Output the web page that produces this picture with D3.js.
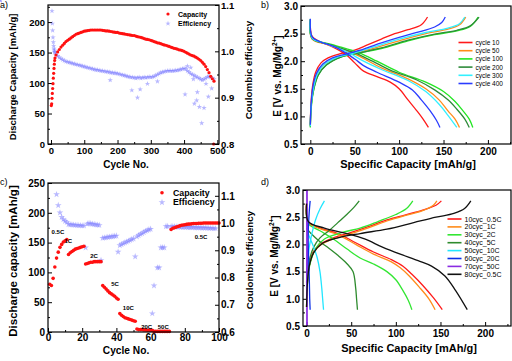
<!DOCTYPE html>
<html><head><meta charset="utf-8">
<script src="https://cdn.jsdelivr.net/npm/d3@7"></script>
<style>
body{margin:0;background:#fff}
text{font-family:"Liberation Sans",Arial,sans-serif;}
</style></head><body>
<script>
// ---------- Panel a data ----------
const aCapCycles = [1,2,3,4,5,6,7,8,9,10,11,12,15,20,25,30,35,40,45,50,55,60,65,70,75,80,85,90,95,100,105,110,115,120,125,130,135,140,145,150,155,160,165,170,175,180,185,190,195,200,205,210,215,220,225,230,235,240,245,250,255,260,265,270,275,280,285,290,295,300,305,310,315,320,325,330,335,340,345,350,355,360,365,370,375,380,385,390,395,400,405,410,415,420,425,430,435,440,445,450,455,460,465,470,475,480,485,490,489];
const aCapValues = [63,66,75,83,91,99,108,116,124,131,137,141,146,151,155,159,162,165,168,170,172,174,176,178,180,181,182,183,184,185,185.5,186,186.5,187,187,187,187,187,187,187,186.5,186,185.5,185.5,185,184.5,184,183.5,183,183,182,181.5,181,180.5,180,179.5,179,178.5,178,178,177,176,175.5,175,174,173,172,171.5,171,170,169,168,167,166,165.5,164.5,163.5,162.5,162,161,160,159,158,157,156.5,155.5,154.5,154,153,152,150.5,149,147.5,146,145,144,142.5,141,139,137,134,131,127,122,117,111,107,103,0];
const aEffCycles = [3,4,5,6,7,8,9,10,11,12,15,20,25,30,35,40,45,50,55,60,65,70,75,80,85,90,95,100,105,110,115,120,125,130,135,140,145,150,155,160,165,170,175,180,185,190,195,200,205,210,215,220,225,230,235,240,245,250,255,260,265,270,275,280,285,290,295,300,305,310,315,320,325,330,335,340,345,350,355,360,365,370,375,380,385,390,395,400,405,410,415,420,425,430,435,440,445,450,455,460,465,470,475,480,485,490,178,243,260,268,290,320,403,410,420,428,431,438,440,446,453,460,466,473,483];
const aEffValues = [1.087,1.06,1.045,1.03,1.02,1.012,1.006,1.002,0.999,0.997,0.993,0.990,0.987,0.984,0.982,0.980,0.978,0.977,0.976,0.975,0.974,0.973,0.972,0.971,0.970,0.969,0.968,0.967,0.966,0.965,0.964,0.963,0.962,0.961,0.960,0.960,0.959,0.958,0.958,0.957,0.956,0.956,0.955,0.954,0.954,0.953,0.953,0.952,0.951,0.950,0.949,0.948,0.947,0.946,0.945,0.944,0.944,0.943,0.942,0.943,0.944,0.942,0.943,0.944,0.943,0.944,0.945,0.944,0.945,0.946,0.948,0.950,0.952,0.954,0.955,0.956,0.957,0.958,0.958,0.958,0.958,0.958,0.959,0.959,0.960,0.961,0.962,0.963,0.962,0.958,0.955,0.952,0.950,0.948,0.946,0.944,0.942,0.940,0.938,0.940,0.942,0.945,0.946,0.944,0.942,0.940,0.938,0.916,0.900,0.918,0.930,0.935,0.907,0.968,0.965,0.940,0.887,0.894,0.912,0.880,0.845,0.878,0.930,0.902,0.920];

// ---------- Panel b data (cycle curves: [capacity mAh/g, E V]) ----------
const bLabels = ["cycle 10","cycle 50","cycle 100","cycle 200","cycle 300","cycle 400"];
const bColors = ["#ff1a1a","#ff8c1a","#22e622","#2e8b3a","#33f0ff","#2a3cff"];
const bDischarge = [
 [[0,2.75],[2,2.45],[10,2.36],[25,2.26],[40,2.12],[50,1.97],[60,1.82],[75,1.72],[90,1.62],[100,1.50],[110,1.30],[120,1.10],[127,0.95],[133,0.8]],
 [[0,2.75],[2,2.40],[20,2.30],[45,2.17],[60,2.05],[80,1.88],[110,1.68],[130,1.50],[145,1.30],[155,1.10],[163,0.95],[168,0.8]],
 [[0,2.76],[2,2.42],[25,2.30],[55,2.15],[75,2.00],[100,1.80],[130,1.62],[150,1.45],[163,1.27],[172,1.10],[179,0.95],[183,0.8]],
 [[0,2.76],[2,2.41],[20,2.31],[50,2.15],[70,2.00],[90,1.84],[120,1.66],[140,1.48],[155,1.30],[165,1.13],[174,0.95],[179,0.8]],
 [[0,2.76],[2,2.42],[15,2.33],[40,2.18],[60,2.00],[80,1.85],[110,1.65],[130,1.45],[145,1.22],[155,1.02],[165,0.8]],
 [[0,2.77],[2,2.44],[10,2.36],[30,2.24],[50,2.04],[60,1.92],[75,1.80],[100,1.62],[115,1.48],[125,1.30],[135,1.10],[142,0.93],[146,0.8]]
];
const bCharge = [
 [[0,0.85],[1,1.3],[3,1.6],[6,1.8],[12,1.97],[20,2.06],[35,2.14],[50,2.2],[65,2.3],[80,2.4],[95,2.5],[110,2.57],[125,2.66],[132,2.8]],
 [[0,0.82],[1,1.2],[4,1.55],[8,1.77],[15,1.93],[30,2.06],[50,2.14],[70,2.23],[100,2.37],[130,2.5],[155,2.58],[168,2.66],[175,2.8]],
 [[0,0.8],[1,1.15],[4,1.5],[9,1.75],[18,1.93],[35,2.08],[55,2.15],[80,2.23],[110,2.37],[140,2.48],[165,2.55],[180,2.63],[189,2.8]],
 [[0,0.82],[1,1.2],[4,1.5],[9,1.75],[18,1.93],[35,2.08],[55,2.15],[80,2.24],[110,2.38],[140,2.49],[165,2.56],[180,2.64],[190,2.8]],
 [[0,0.82],[1,1.2],[4,1.55],[8,1.77],[15,1.93],[30,2.07],[50,2.15],[70,2.25],[100,2.4],[130,2.52],[155,2.6],[168,2.68],[174,2.8]],
 [[0,0.85],[1,1.25],[3,1.55],[7,1.78],[14,1.95],[25,2.06],[40,2.13],[60,2.22],[80,2.33],[100,2.43],[120,2.52],[140,2.62],[148,2.7],[152,2.8]]
];

// ---------- Panel c data ----------
const cCapCycles = d3.range(1,101);
const cCapValues = [80,78,90,109,124,134,142,147,151,153,155,
 130,133,135,137,139,140,141,142,143,144,
 114,115,116,117,117,118,118,118,118,118,
 78,75,72,69,66,64,62,60,57,55,
 31,28,26,24,23,22,21,20,19,18,
 5,4,4,4,3.5,3.5,3,3,3,3,
 1,1,1,1,1,1,1,1,1,1,
 172,174,175,176,177,178,179,179.5,180,180.5,181,181,181.5,182,182,182,182.5,182.5,182.5,183,183,183,183,183,183,183,183,183,183];
const cEffCycles = [5,6,7,8,9,10,11,12,13,14,15,16,17,18,19,20,21,22,23,24,25,26,27,28,29,30,31,32,33,34,35,36,37,38,39,40,41,42,43,44,45,46,47,48,49,50,51,52,53,54,55,56,57,58,59,60,61,62,64,65,66,67,68,69,70,72,73,74,75,76,77,78,79,80,81,82,83,84,85,86,87,88,89,90,91,92,93,94,95,96,97,98,99,100];
const cEffValues = [1.105,1.065,1.038,1.022,1.013,1.007,1.003,
 0.995,0.994,0.994,0.993,0.992,0.992,0.991,0.991,0.990,0.990,
 0.910,0.997,0.999,0.998,0.996,0.995,0.994,0.993,0.992,
 0.863,0.945,0.946,0.947,0.948,0.949,0.950,0.951,0.952,0.953,
 0.894,0.918,0.922,0.925,0.928,0.931,0.934,0.937,0.940,0.943,
 0.877,0.950,0.955,0.959,0.962,0.966,0.970,0.973,0.976,0.978,
 0.668,0.770,0.836,0.836,0.910,0.910,0.910,
 0.988,0.988,0.987,0.987,0.987,0.986,0.986,0.986,0.985,0.985,0.985,0.985,0.984,0.984,0.984,0.984,0.983,0.983,0.983,0.983,0.982,0.982,0.982,0.982,0.981,0.981,0.981,0.980,0.980];
const cRateLabels = ["0.5C","1C","2C","5C","10C","20C","50C","0.5C"];
const cRateX = [5.8,11.9,26.9,39.2,47,57.7,67.4,89.5];
const cRateY = [168,153,127,80,41,8,8,160];

// ---------- Panel d data ----------
const dLabels = ["10cyc_0.5C","20cyc_1C","30cyc_2C","40cyc_5C","50cyc_10C","60cyc_20C","70cyc_50C","80cyc_0.5C"];
const dColors = ["#ff1a1a","#ff8c1a","#33e633","#2e8b2e","#22e6ff","#0a2ee6","#8a2be2","#111111"];
const dDischarge = [
 [[0,2.75],[2,2.42],[15,2.3],[35,2.2],[55,2.03],[75,1.86],[95,1.72],[108,1.6],[118,1.45],[130,1.25],[142,1.02],[152,0.8]],
 [[0,2.74],[2,2.4],[15,2.29],[35,2.18],[55,2.0],[75,1.82],[95,1.68],[105,1.57],[115,1.42],[126,1.22],[137,1.0],[144,0.8]],
 [[0,2.65],[2,2.38],[15,2.25],[30,2.1],[45,1.92],[60,1.75],[75,1.64],[90,1.5],[100,1.35],[108,1.15],[114,0.97],[118,0.8]],
 [[0,2.3],[5,2.2],[15,2.05],[25,1.93],[35,1.8],[45,1.65],[52,1.5],[55,1.2],[56,1.0],[57,0.8]],
 [[0,2.3],[3,2.15],[8,1.95],[12,1.75],[15,1.5],[17,1.2],[18,1.0],[19,0.8]],
 [[0,2.7],[1,2.3],[2,1.9],[3,1.4],[3.5,1.0],[4,0.8]],
 [[0.4,3.0],[0.5,0.5]],
 [[0,2.75],[2,2.42],[20,2.3],[45,2.2],[65,2.1],[85,1.95],[105,1.82],[125,1.7],[140,1.6],[155,1.42],[167,1.15],[180,0.8]]
];
const dCharge = [
 [[0,0.85],[1,1.3],[3,1.6],[7,1.85],[15,2.0],[30,2.12],[50,2.22],[70,2.33],[90,2.45],[110,2.54],[130,2.63],[145,2.72],[151,2.8]],
 [[0,0.85],[1,1.3],[3,1.6],[8,1.85],[15,1.98],[30,2.1],[50,2.2],[70,2.31],[90,2.43],[110,2.53],[130,2.62],[142,2.72],[146,2.8]],
 [[0,0.85],[1,1.3],[4,1.65],[10,1.92],[20,2.1],[40,2.22],[60,2.3],[80,2.42],[100,2.55],[112,2.66],[119,2.8]],
 [[0,1.0],[1,1.4],[3,1.7],[8,1.95],[15,2.12],[25,2.25],[35,2.4],[45,2.55],[53,2.68],[59,2.8]],
 [[0,1.2],[1,1.6],[3,1.95],[6,2.2],[10,2.45],[15,2.65],[20,2.8]],
 [[0,1.3],[1,1.8],[2,2.3],[3,2.6],[4,2.8]],
 [[0.4,0.5],[0.5,3.0]],
 [[0,0.85],[1,1.3],[3,1.6],[8,1.85],[18,2.02],[35,2.12],[60,2.2],[90,2.28],[120,2.4],[145,2.5],[165,2.57],[177,2.66],[184,2.8]]
];

// ---------- drawing ----------
const FONT = '"Liberation Sans", Arial, sans-serif';
const svg = d3.select("body").append("svg").attr("width",512).attr("height",361);

function styleAxis(a, fs){
  a.select(".domain").remove();
  a.selectAll("line").attr("stroke","#000").attr("stroke-width",1);
  a.selectAll("text").attr("font-size",fs).attr("font-weight","bold").attr("font-family",FONT).attr("fill","#000");
}
function addAxis(axis, tr, fs){
  const a = svg.append("g").attr("transform",tr).call(axis);
  styleAxis(a, fs||9.5);
  return a;
}
function frame(L,R,T,B){
  svg.append("rect").attr("x",L).attr("y",T).attr("width",R-L).attr("height",B-T)
    .attr("fill","none").attr("stroke","#000").attr("stroke-width",1.2);
}
function text(x,y,s,o){
  o=o||{};
  const t = svg.append("text").attr("x",x).attr("y",y).text(s)
    .attr("font-size",o.fs||10).attr("font-weight",o.fw||"bold").attr("font-family",FONT)
    .attr("text-anchor",o.anchor||"middle").attr("dominant-baseline","central").attr("fill",o.fill||"#000");
  if(o.rot) t.attr("transform",`rotate(${o.rot},${x},${y})`);
  return t;
}
const star = d3.symbol().type(d3.symbolStar).size(9);
const starC = d3.symbol().type(d3.symbolStar).size(14);

// ===== Panel a =====
{
  const L=48,R=219,T=5,B=144;
  const x=d3.scaleLinear().domain([-9,505]).range([L,R]);
  const y=d3.scaleLinear().domain([0,228]).range([B,T]);
  const y2=d3.scaleLinear().domain([0.8,1.1]).range([B,T]);
  addAxis(d3.axisBottom(x).tickValues([0,100,200,300,400,500]).tickSize(-4).tickPadding(3),`translate(0,${B})`);
  addAxis(d3.axisBottom(x).tickValues([50,150,250,350,450]).tickSize(-2).tickFormat(""),`translate(0,${B})`);
  addAxis(d3.axisLeft(y).tickValues([0,50,100,150,200]).tickSize(-4).tickPadding(3),`translate(${L},0)`);
  addAxis(d3.axisLeft(y).tickValues([25,75,125,175,225]).tickSize(-2).tickFormat(""),`translate(${L},0)`);
  addAxis(d3.axisRight(y2).tickValues([0.8,0.9,1.0,1.1]).tickSize(-4).tickPadding(2).tickFormat(d3.format(".1f")),`translate(${R},0)`);
  addAxis(d3.axisRight(y2).tickValues([0.85,0.95,1.05]).tickSize(-2).tickFormat(""),`translate(${R},0)`);
  const eff = aEffCycles.map((c,i)=>[c,aEffValues[i]]);
  svg.append("g").selectAll("path").data(eff).join("path").attr("d",star)
    .attr("transform",d=>`translate(${x(d[0])},${y2(d[1])})`).attr("fill","#6f6fff").attr("opacity",0.5);
  const cap = aCapCycles.map((c,i)=>[c,aCapValues[i]]);
  svg.append("g").selectAll("circle").data(cap).join("circle")
    .attr("cx",d=>x(d[0])).attr("cy",d=>y(d[1])).attr("r",1.6).attr("fill","#ff1010");
  frame(L,R,T,B);
  svg.append("circle").attr("cx",168).attr("cy",14).attr("r",1.6).attr("fill","#ff1010");
  svg.append("path").attr("d",star).attr("transform","translate(168,23.5)").attr("fill","#6f6fff").attr("opacity",0.5);
  text(178,14,"Capacity",{fs:7,anchor:"start"});
  text(178,23.5,"Efficiency",{fs:7,anchor:"start"});
  text(126,164,"Cycle No.",{fs:10});
  text(12,77,"Discharge Capacity [mAh/g]",{fs:9.5,rot:-90});
  text(248,70,"Coulombic efficiency",{fs:9.8,rot:-90});
  text(0,5,"a)",{fs:9,fw:"normal",anchor:"start"});
}

// ===== Panels b and d =====
function ePanel(L,R,T,B,xdom,dis,chg,cols,labels,legX,legY,legDY,legFs,ylabX,ylabY,xlabY,tag,tagY){
  const x=d3.scaleLinear().domain(xdom).range([L,R]);
  const y=d3.scaleLinear().domain([0.5,3.0]).range([B,T]);
  addAxis(d3.axisBottom(x).tickValues([0,50,100,150,200]).tickSize(-4).tickPadding(3.5),`translate(0,${B})`,10);
  addAxis(d3.axisBottom(x).tickValues([25,75,125,175,225]).tickSize(-2).tickFormat(""),`translate(0,${B})`);
  addAxis(d3.axisLeft(y).tickValues([0.5,1.0,1.5,2.0,2.5,3.0]).tickSize(-4).tickPadding(3).tickFormat(d3.format(".1f")),`translate(${L},0)`,10);
  addAxis(d3.axisLeft(y).tickValues([0.75,1.25,1.75,2.25,2.75]).tickSize(-2).tickFormat(""),`translate(${L},0)`);
  const line=d3.line().x(d=>x(d[0])).y(d=>y(d[1])).curve(d3.curveCatmullRom.alpha(0.5));
  dis.forEach((c,i)=>{
    svg.append("path").attr("d",line(c)).attr("fill","none").attr("stroke",cols[i]).attr("stroke-width",1.3);
    svg.append("path").attr("d",line(chg[i])).attr("fill","none").attr("stroke",cols[i]).attr("stroke-width",1.3);
  });
  frame(L,R,T,B);
  labels.forEach((s,i)=>{
    const yy=legY+i*legDY;
    svg.append("line").attr("x1",legX).attr("x2",legX+14).attr("y1",yy).attr("y2",yy).attr("stroke",cols[i]).attr("stroke-width",1.6);
    text(legX+17,yy,s,{fs:legFs,fw:"normal",anchor:"start"});
  });
  text((L+R)/2+2,xlabY,"Specific Capacity [mAh/g]",{fs:11});
  const t=text(ylabX,ylabY,"E [V vs. Mg/Mg",{fs:10,rot:-90});
  t.append("tspan").attr("font-size",6.5).attr("dy",-4).text("2+");
  t.append("tspan").attr("dy",4).text("]");
  text(261,tagY,tag,{fs:9,fw:"normal",anchor:"start"});
}
ePanel(301,511,6,144,[-10.5,226],bDischarge,bCharge,bColors,bLabels,458.5,42.5,8.2,6.5,277.5,76,164,"b)",5);
ePanel(303,511,190,326,[-4,229],dDischarge,dCharge,dColors,dLabels,447.5,219,7.9,7,274.5,256,347.5,"d)",182);

// ===== Panel c =====
{
  const L=48,R=219,T=183,B=332;
  const x=d3.scaleLinear().domain([0,100]).range([L,R]);
  const y=d3.scaleLinear().domain([0,250]).range([B,T]);
  const y2=d3.scaleLinear().domain([0.6,1.147]).range([B,T]);
  addAxis(d3.axisBottom(x).tickValues([0,20,40,60,80,100]).tickSize(-4).tickPadding(2),`translate(0,${B})`,10);
  addAxis(d3.axisBottom(x).tickValues([10,30,50,70,90]).tickSize(-2).tickFormat(""),`translate(0,${B})`);
  addAxis(d3.axisLeft(y).tickValues([0,50,100,150,200,250]).tickSize(-4).tickPadding(3),`translate(${L},0)`,10);
  addAxis(d3.axisLeft(y).tickValues([25,75,125,175,225]).tickSize(-2).tickFormat(""),`translate(${L},0)`);
  addAxis(d3.axisRight(y2).tickValues([0.6,0.7,0.8,0.9,1.0,1.1]).tickSize(-4).tickPadding(2).tickFormat(d3.format(".1f")),`translate(${R},0)`,10);
  addAxis(d3.axisRight(y2).tickValues([0.65,0.75,0.85,0.95,1.05]).tickSize(-2).tickFormat(""),`translate(${R},0)`);
  const eff=cEffCycles.map((c,i)=>[c,cEffValues[i]]);
  svg.append("g").selectAll("path").data(eff).join("path").attr("d",starC)
    .attr("transform",d=>`translate(${x(d[0])},${y2(d[1])})`).attr("fill","#7f7fff").attr("opacity",0.55);
  const cap=cCapCycles.map((c,i)=>[c,cCapValues[i]]);
  svg.append("g").selectAll("circle").data(cap).join("circle")
    .attr("cx",d=>x(d[0])).attr("cy",d=>y(d[1])).attr("r",1.8).attr("fill","#ff1010");
  frame(L,R,T,B);
  cRateLabels.forEach((s,i)=>text(x(cRateX[i]),y(cRateY[i]),s,{fs:6}));
  svg.append("circle").attr("cx",162).attr("cy",192.7).attr("r",1.8).attr("fill","#ff1010");
  svg.append("path").attr("d",starC).attr("transform","translate(162,202.3)").attr("fill","#7f7fff").attr("opacity",0.55);
  text(173,192.7,"Capacity",{fs:8.8,anchor:"start"});
  text(173,202.3,"Efficiency",{fs:8.8,anchor:"start"});
  text(126,350,"Cycle No.",{fs:10.2});
  text(12.5,261,"Discharge capacity [mAh/g]",{fs:11.5,rot:-90});
  text(249,260,"Coulombic efficiency",{fs:9.8,rot:-90});
  text(0,182,"c)",{fs:9,fw:"normal",anchor:"start"});
}
</script>
</body></html>
